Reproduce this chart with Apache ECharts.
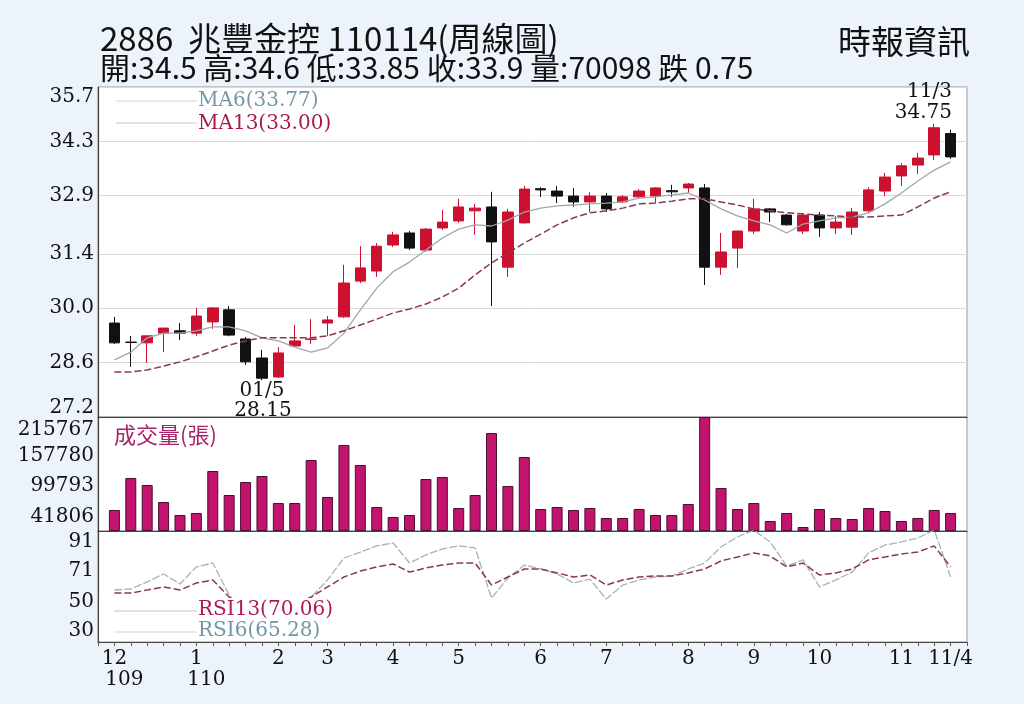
<!DOCTYPE html>
<html><head><meta charset="utf-8">
<script src="https://cdn.jsdelivr.net/npm/echarts@6/dist/echarts.min.js"></script>
<style>html,body{margin:0;padding:0;background:#ecf3fb;}#c{width:1024px;height:704px;}</style>
</head><body><div id="c"></div>
<script>
// ---- tick labels ----
const monthLabels = ['12','','','','','1','','','','','2','','','3','','','','4','','','','5','','','','','6','','','','7','','','','','8','','','','9','','','','10','','','','','11','','','11/4'];
const yearLabels = ['109','','','','','110','','','','','','','','','','','','','','','','','','','','','','','','','','','','','','','','','','','','','','','','','','','','','',''];
const priceTicks = [27.2, 28.6, 30.0, 31.4, 32.9, 34.3, 35.7];
const volumeTicks = [41806, 99793, 157780, 215767];
const rsiTicks = [30, 50, 71, 91];

// ---- weekly OHLC ----
const opens  = [29.62,29.13,29.11,29.36,29.42,29.36,29.65,29.96,29.21,28.72,28.23,29.03,29.20,29.62,29.78,30.70,30.96,31.63,31.94,31.50,32.07,32.25,32.51,32.61,31.06,32.20,33.08,33.02,32.89,32.74,32.89,32.74,32.87,32.89,33.03,33.10,33.10,31.06,31.55,31.99,32.56,32.40,31.99,32.40,32.07,32.09,32.51,33.02,33.41,33.69,33.95,34.50];
const closes = [29.11,29.12,29.29,29.49,29.36,29.80,30.01,29.31,28.62,28.20,28.85,29.16,29.21,29.70,30.65,31.04,31.60,31.89,31.55,32.04,32.22,32.61,32.58,31.71,32.48,33.07,33.05,32.89,32.74,32.89,32.56,32.87,33.02,33.10,33.00,33.20,31.06,31.45,31.99,32.56,32.48,32.15,32.40,32.07,32.22,32.48,33.05,33.38,33.67,33.87,34.65,33.90];
const highs  = [29.78,29.29,29.31,29.50,29.62,30.01,30.03,30.06,29.26,28.93,29.00,29.57,29.72,29.80,31.12,31.60,31.68,31.97,31.99,32.07,32.53,32.82,32.69,33.00,32.56,33.15,33.12,33.15,33.10,32.99,32.97,32.92,33.07,33.12,33.18,33.23,33.20,31.94,32.00,32.82,32.58,32.43,32.46,32.48,32.38,32.58,33.12,33.49,33.74,34.00,34.75,34.60];
const lows   = [29.08,28.49,28.59,28.87,29.18,29.29,29.47,29.28,28.54,28.15,28.20,29.00,29.08,29.29,29.75,30.65,30.81,31.58,31.50,31.45,32.02,32.20,31.89,30.06,30.81,32.18,32.87,32.71,32.61,32.48,32.48,32.71,32.84,32.71,32.87,32.97,30.60,30.86,31.04,31.91,32.22,32.13,31.91,31.84,31.91,31.89,32.46,32.89,33.15,33.46,33.82,33.85];
const ma6  = [28.67,28.87,29.24,29.36,29.36,29.42,29.52,29.52,29.42,29.24,29.16,29.00,28.87,28.98,29.36,29.96,30.52,30.94,31.19,31.50,31.81,32.04,32.15,32.12,32.27,32.48,32.58,32.64,32.66,32.69,32.71,32.74,32.84,32.87,32.92,32.97,32.79,32.56,32.38,32.25,32.15,31.94,32.17,32.25,32.33,32.35,32.46,32.69,32.97,33.28,33.56,33.77];
const ma13 = [28.36,28.36,28.41,28.51,28.62,28.75,28.90,29.05,29.16,29.24,29.24,29.24,29.24,29.29,29.42,29.57,29.72,29.88,29.98,30.11,30.29,30.52,30.86,31.17,31.42,31.68,31.91,32.15,32.33,32.46,32.51,32.58,32.69,32.71,32.76,32.82,32.82,32.74,32.66,32.56,32.51,32.46,32.43,32.40,32.38,32.35,32.35,32.38,32.40,32.61,32.84,33.00];
const volumes = [39747,100313,87064,54888,30283,34069,113562,68137,92742,104099,52996,52996,134382,64352,162772,124918,45425,26498,30283,98420,102206,43532,68137,185485,85172,140060,41639,45425,39747,43532,24605,24605,41639,30283,30283,51103,215767,81386,41639,52996,18927,34069,7571,41639,24605,22712,43532,37854,18927,24605,39747,34069];
const rsi13 = [56.0,56.0,58.1,60.2,58.1,62.9,65.0,53.3,46,41,45,48,53.3,60.2,67.0,71.1,73.9,75.9,70.4,73.2,75.2,76.6,76.6,61.5,67.0,72.5,72.5,69.8,67.0,68.4,61.5,65.0,67.0,67.7,67.7,69.8,72.5,78.0,80.7,83.5,81.4,73.9,76.6,68.4,69.8,72.5,78.7,80.7,82.8,84.1,88.3,73.9];
const rsi6  = [58.1,58.8,63.6,69.1,62.2,73.9,76.6,54.7,42,35,44,48,53.3,65.0,80.0,84.1,88.3,90.3,76.6,82.1,86.2,88.3,86.9,52.6,66.3,75.2,72.5,69.1,62.9,65.6,51.9,61.5,65.0,67.0,67.7,72.5,76.6,87.6,94.4,99.0,91.0,74.6,78.7,60.2,65.0,70.4,83.5,88.9,91.0,93.7,99.2,67.0];

const pad = a => ['-'].concat(a, ['-']);
const cats = [''].concat(monthLabels, ['']);
const years = [''].concat(yearLabels, ['']);
const ohlc = pad(opens.map((o, i) => [o, closes[i], lows[i], highs[i]]));

const serif = 'DejaVu Serif';
const cjk = 'Noto Sans CJK TC';
const L = 98, R = 57;

const chart = echarts.init(document.getElementById('c'));
const hiddenX = (gi) => ({
  type: 'category', gridIndex: gi, data: cats, boundaryGap: false, position: 'bottom',
  axisLine: { show: true, lineStyle: { color: '#444', width: 1.2 } },
  axisTick: { show: false }, axisLabel: { show: false }, splitLine: { show: false }
});
const richSerif = { fontFamily: serif, fontSize: 20, color: '#111' };
const valY = (gi, min, max, ticks, fmt, extraLabel, extra) => Object.assign({
  type: 'value', gridIndex: gi, min: min, max: max, position: 'left',
  axisLine: { show: true, lineStyle: { color: '#444', width: 1.2 } },
  axisTick: { show: false, customValues: ticks },
  axisLabel: Object.assign({ customValues: ticks, formatter: fmt, margin: 4, color: '#111',
    fontFamily: serif, fontSize: 20, hideOverlap: false }, extraLabel || {}),
  splitLine: { show: false }
}, extra || {});

const priceFmt = v => {
  const s = v.toFixed(1);
  if (Math.abs(v - priceTicks[priceTicks.length - 1]) < 1e-6) return '{t|' + s + '}';
  if (Math.abs(v - priceTicks[0]) < 1e-6) return '{b|' + s + '}';
  return s;
};
const volFmt = v => {
  const s = String(Math.round(v));
  if (Math.round(v) === volumeTicks[volumeTicks.length - 1]) return '{t|' + s + '}';
  return '{m|' + s + '}';
};

chart.setOption({
  animation: false,
  backgroundColor: '#ecf3fb',
  grid: [
    { left: L, right: R, top: 87, height: 330, show: true, backgroundColor: '#fff', borderColor: '#999', borderWidth: 1, outerBoundsMode: 'none' },
    { left: L, right: R, top: 417, height: 114, show: true, backgroundColor: '#fff', borderColor: '#999', borderWidth: 1, outerBoundsMode: 'none' },
    { left: L, right: R, top: 531, height: 111, show: true, backgroundColor: '#fff', borderColor: '#999', borderWidth: 1, outerBoundsMode: 'none' }
  ],
  xAxis: [
    hiddenX(0), hiddenX(1),
    { type: 'category', gridIndex: 2, data: cats, boundaryGap: false, position: 'bottom',
      axisLine: { show: true, lineStyle: { color: '#444', width: 1.2 } },
      axisTick: { show: true, interval: 0, length: 4, lineStyle: { color: '#555' } },
      axisLabel: { interval: 0, margin: 7, color: '#111', fontFamily: serif, fontSize: 20, hideOverlap: false },
      splitLine: { show: false } },
    { type: 'category', gridIndex: 2, data: years, boundaryGap: false, position: 'bottom', offset: 0,
      axisLine: { show: false }, axisTick: { show: false },
      axisLabel: { interval: 0, margin: 28, color: '#111', fontFamily: serif, fontSize: 20, padding: [0, 0, 0, 20], hideOverlap: false },
      splitLine: { show: false } }
  ],
  yAxis: [
    valY(0, 27.2, 35.7, priceTicks, priceFmt, {
      rich: { t: Object.assign({ padding: [20, 0, 0, 0] }, richSerif), b: Object.assign({ padding: [0, 0, 18, 0] }, richSerif) }
    }, { splitLine: { show: true, lineStyle: { color: '#d9d9d9', width: 1 } } }),
    valY(1, 0, 215767, volumeTicks, volFmt, {
      rich: { t: Object.assign({ padding: [26, 0, 0, 0] }, richSerif), m: Object.assign({ padding: [16, 0, 0, 0] }, richSerif) }
    }),
    valY(2, 22.5, 98.5, rsiTicks, v => String(Math.round(v)))
  ],
  series: [
    { type: 'candlestick', name: 'K', xAxisIndex: 0, yAxisIndex: 0, data: ohlc, barWidth: 11,
      itemStyle: { color: '#cc1030', color0: '#111', borderColor: '#cc1030', borderColor0: '#111', borderWidth: 1 } },
    { type: 'line', name: 'MA6', xAxisIndex: 0, yAxisIndex: 0, data: pad(ma6), symbol: 'none', z: 5,
      lineStyle: { color: '#9aa8b0', width: 1.3 } },
    { type: 'line', name: 'MA13', xAxisIndex: 0, yAxisIndex: 0, data: pad(ma13), symbol: 'none', z: 5,
      lineStyle: { color: '#8a3850', width: 1.5, type: [7, 3] } },
    { type: 'bar', name: 'VOL', xAxisIndex: 1, yAxisIndex: 1, data: pad(volumes), barWidth: 11,
      itemStyle: { color: '#c2146e', borderColor: '#4a1030', borderWidth: 1 } },
    { type: 'line', name: 'RSI6', xAxisIndex: 2, yAxisIndex: 2, data: pad(rsi6), symbol: 'none', z: 4,
      lineStyle: { color: '#a9b2b6', width: 1.3, type: [8, 2] } },
    { type: 'line', name: 'RSI13', xAxisIndex: 2, yAxisIndex: 2, data: pad(rsi13), symbol: 'none', z: 5,
      lineStyle: { color: '#8a3850', width: 1.5, type: [7, 3] } }
  ],
  graphic: [
    { type: 'text', z: 100, x: 100, y: 38, style: { text: '2886  兆豐金控 110114(周線圖)', font: '33px "' + cjk + '"', fill: '#111', textVerticalAlign: 'middle' } },
    { type: 'text', z: 100, x: 100, y: 68, style: { text: '開:34.5 高:34.6 低:33.85 收:33.9 量:70098 跌 0.75', font: '30px "' + cjk + '"', fill: '#111', textVerticalAlign: 'middle' } },
    { type: 'text', z: 100, x: 970, y: 41, style: { text: '時報資訊', font: '33px "' + cjk + '"', fill: '#111', textAlign: 'right', textVerticalAlign: 'middle' } },
    { type: 'line', z: 100, shape: { x1: 116, y1: 101, x2: 197, y2: 101 }, style: { stroke: '#d0d4d8', lineWidth: 1 } },
    { type: 'line', z: 100, shape: { x1: 116, y1: 123, x2: 197, y2: 123 }, style: { stroke: '#c6c6c6', lineWidth: 1.2 } },
    { type: 'text', z: 100, x: 198, y: 101, style: { text: 'MA6(33.77)', font: '20px "' + serif + '"', fill: '#7397a8', textVerticalAlign: 'middle' } },
    { type: 'text', z: 100, x: 198, y: 124, style: { text: 'MA13(33.00)', font: '20px "' + serif + '"', fill: '#a41a4c', textVerticalAlign: 'middle' } },
    { type: 'text', z: 100, x: 952, y: 92, style: { text: '11/3', font: '20px "' + serif + '"', fill: '#111', textAlign: 'right', textVerticalAlign: 'middle' } },
    { type: 'text', z: 100, x: 952, y: 113, style: { text: '34.75', font: '20px "' + serif + '"', fill: '#111', textAlign: 'right', textVerticalAlign: 'middle' } },
    { type: 'text', z: 100, x: 262, y: 391, style: { text: '01/5', font: '20px "' + serif + '"', fill: '#111', textAlign: 'center', textVerticalAlign: 'middle' } },
    { type: 'text', z: 100, x: 263, y: 411, style: { text: '28.15', font: '20px "' + serif + '"', fill: '#111', textAlign: 'center', textVerticalAlign: 'middle' } },
    { type: 'text', z: 100, x: 114, y: 435, style: { text: '成交量(張)', font: '22px "' + cjk + '"', fill: '#a8246a', textVerticalAlign: 'middle' } },
    { type: 'rect', z: 99, shape: { x: 99.5, y: 598, width: 246, height: 43 }, style: { fill: '#fff' } },
    { type: 'line', z: 100, shape: { x1: 114, y1: 611, x2: 197, y2: 611 }, style: { stroke: '#c6c6c6', lineWidth: 1.2 } },
    { type: 'line', z: 100, shape: { x1: 114, y1: 632, x2: 197, y2: 632 }, style: { stroke: '#d0d4d8', lineWidth: 1 } },
    { type: 'text', z: 100, x: 198, y: 610, style: { text: 'RSI13(70.06)', font: '20px "' + serif + '"', fill: '#b0185a', textVerticalAlign: 'middle' } },
    { type: 'text', z: 100, x: 198, y: 631, style: { text: 'RSI6(65.28)', font: '20px "' + serif + '"', fill: '#7397a8', textVerticalAlign: 'middle' } }
  ]
});
</script></body></html>
